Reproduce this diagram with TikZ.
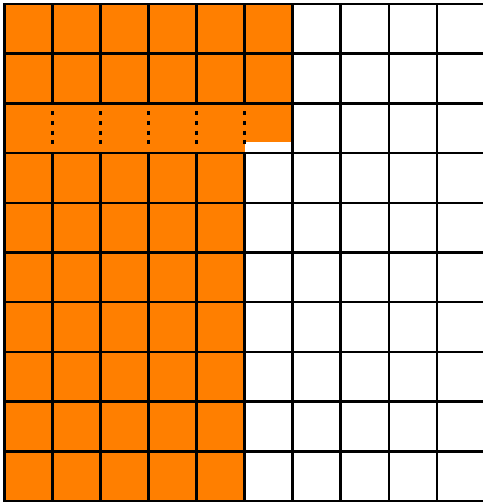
\documentclass[tikz,border=0pt]{standalone}
\definecolor{fillorange}{RGB}{255,127,0}
\begin{document}
\begin{tikzpicture}[x=1pt,y=-1pt,
  gridline/.style={line width=2.4pt, black, line cap=rect},
  dashseg/.style={line width=2.4pt, black, line cap=butt}]
\useasboundingbox (0,0) rectangle (482,502);
% orange fills
\fill[fillorange] (4.3,4) rectangle (244.5,501);
\fill[fillorange] (244.5,4) rectangle (292.5,142.5);
% horizontal lines
\foreach \j in {0,...,10}{
  \pgfmathsetmacro\yy{4+49.7*\j}
  \draw[gridline] (4.3,\yy) -- (490,\yy);
}
% vertical lines
\foreach \k in {0,6,7,8,9,10}{
  \pgfmathsetmacro\xx{4.3+48.05*\k}
  \draw[gridline] (\xx,4) -- (\xx,501);
}
\foreach \k in {1,...,5}{
  \pgfmathsetmacro\xx{4.3+48.05*\k}
  \draw[gridline] (\xx,4) -- (\xx,103.4);
  \draw[gridline] (\xx,153.1) -- (\xx,501);
  \foreach \a/\b in {8/12, 17.5/21.8, 27.2/31.4, 36.6/40.8}{
    \draw[dashseg] (\xx,103.4+\a) -- (\xx,103.4+\b);
  }
}
\end{tikzpicture}
\end{document}
